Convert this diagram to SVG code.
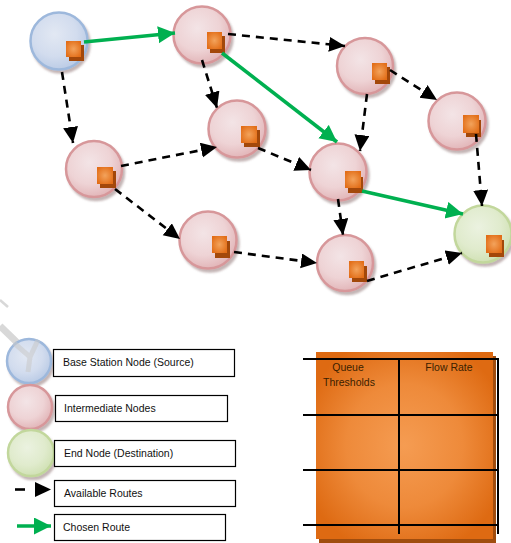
<svg xmlns="http://www.w3.org/2000/svg" width="511" height="543" viewBox="0 0 511 543">
  <style>
    .pink { fill: url(#gPink); stroke: #d7979a; stroke-width: 2.5; filter: url(#shadow); }
    .blue { fill: url(#gBlue); stroke: #9db8dc; stroke-width: 2.5; filter: url(#shadow); }
    .green { fill: url(#gGreen); stroke: #c2d79c; stroke-width: 2.5; filter: url(#shadow); }
    .sqBack { fill: #a3480a; }
    .sqFront { fill: url(#gSq); }
    .dash { fill: none; stroke: #000; stroke-width: 2.6; stroke-dasharray: 8 6; marker-end: url(#arrBlack); }
    .chosen { fill: none; stroke: #00b050; stroke-width: 3.6; marker-end: url(#arrGreen); }
    .box { fill: #fff; stroke: #000; stroke-width: 1.2; }
    .lbl { font-family: "Liberation Sans", Arial, sans-serif; font-size: 10.5px; fill: #111; }
    .grid { stroke: #000; stroke-width: 2; }
    .cell { font-family: "Liberation Sans", Arial, sans-serif; font-size: 10.5px; fill: #3a1e00; text-anchor: middle; }
  </style>
  <defs>
    <radialGradient id="gPink" cx="0.42" cy="0.38" r="0.65">
      <stop offset="0" stop-color="#f3e4e6"/>
      <stop offset="0.6" stop-color="#eed3d5"/>
      <stop offset="1" stop-color="#e1b3b6"/>
    </radialGradient>
    <radialGradient id="gBlue" cx="0.42" cy="0.38" r="0.65">
      <stop offset="0" stop-color="#e2e8f3"/>
      <stop offset="0.6" stop-color="#d2dcee"/>
      <stop offset="1" stop-color="#b9cae5"/>
    </radialGradient>
    <radialGradient id="gGreen" cx="0.42" cy="0.38" r="0.65">
      <stop offset="0" stop-color="#ebf2e0"/>
      <stop offset="0.6" stop-color="#e0ebcd"/>
      <stop offset="1" stop-color="#cfe0b2"/>
    </radialGradient>
    <radialGradient id="gSq" cx="0.5" cy="0.5" r="0.6">
      <stop offset="0" stop-color="#f3a35c"/>
      <stop offset="1" stop-color="#e26d17"/>
    </radialGradient>
    <radialGradient id="gTable" cx="0.5" cy="0.5" r="0.6">
      <stop offset="0" stop-color="#f59c52"/>
      <stop offset="0.55" stop-color="#ee8a3a"/>
      <stop offset="1" stop-color="#de6a12"/>
    </radialGradient>
    <filter id="shadow" x="-20%" y="-20%" width="150%" height="150%">
      <feDropShadow dx="2" dy="3" stdDeviation="1.2" flood-color="#7a5a5c" flood-opacity="0.45"/>
    </filter>
    <marker id="arrBlack" markerUnits="userSpaceOnUse" markerWidth="18" markerHeight="16" refX="16" refY="7.5" orient="auto">
      <path d="M0,0 L16,7.5 L0,15 z" fill="#000"/>
    </marker>
    <marker id="arrGreen" markerUnits="userSpaceOnUse" markerWidth="19" markerHeight="18" refX="17" refY="8.5" orient="auto">
      <path d="M0,0 L17,8.5 L0,17 z" fill="#00b050"/>
    </marker>
  </defs>

  <rect width="511" height="543" fill="#fff"/>

  <!-- network nodes: circle with an orange agent square -->
  <g id="source">
    <circle class="blue" cx="59" cy="41" r="28.5"/>
    <rect class="sqBack" x="69" y="45" width="15" height="16"/>
    <rect class="sqFront" x="66" y="41" width="15" height="16"/>
  </g>
  <g id="n1">
    <circle class="pink" cx="202" cy="35" r="28.5"/>
    <rect class="sqBack" x="210" y="36" width="15" height="17"/>
    <rect class="sqFront" x="207" y="32" width="15" height="17"/>
  </g>
  <g id="n2">
    <circle class="pink" cx="365" cy="66" r="28"/>
    <rect class="sqBack" x="375" y="67" width="15" height="17"/>
    <rect class="sqFront" x="372" y="63" width="15" height="17"/>
  </g>
  <g id="n3">
    <circle class="pink" cx="457" cy="121" r="28.5"/>
    <rect class="sqBack" x="466" y="120" width="15" height="17"/>
    <rect class="sqFront" x="463" y="115" width="16" height="18"/>
  </g>
  <g id="n4">
    <circle class="pink" cx="237" cy="129" r="28.5"/>
    <rect class="sqBack" x="244" y="130" width="16" height="17"/>
    <rect class="sqFront" x="241" y="126" width="16" height="17"/>
  </g>
  <g id="n5">
    <circle class="pink" cx="94" cy="169" r="28"/>
    <rect class="sqBack" x="100" y="171" width="16" height="17"/>
    <rect class="sqFront" x="97" y="167" width="16" height="17"/>
  </g>
  <g id="n6">
    <circle class="pink" cx="338" cy="172" r="28.5"/>
    <rect class="sqBack" x="348" y="177" width="15" height="16"/>
    <rect class="sqFront" x="345" y="171" width="16" height="17"/>
  </g>
  <g id="n7">
    <circle class="pink" cx="208" cy="240" r="28.5"/>
    <rect class="sqBack" x="215" y="241" width="15" height="17"/>
    <rect class="sqFront" x="212" y="236" width="15" height="17"/>
  </g>
  <g id="n8">
    <circle class="pink" cx="345" cy="263" r="28"/>
    <rect class="sqBack" x="352" y="266" width="15" height="16"/>
    <rect class="sqFront" x="349" y="261" width="15" height="17"/>
  </g>
  <g id="destination">
    <circle class="green" cx="483" cy="234" r="28.5"/>
    <rect class="sqBack" x="489" y="240" width="15" height="17"/>
    <rect class="sqFront" x="486" y="235" width="16" height="18"/>
  </g>

  <!-- routes -->
  <g id="connectors">
    <path class="dash" d="M62,72 L73,143"/>
    <path class="dash" d="M228,34 L345,46"/>
    <path class="dash" d="M202,60 L217,108"/>
    <path class="dash" d="M390,70 L437,100"/>
    <path class="dash" d="M367,94 L360,151"/>
    <path class="dash" d="M258,148 L311,170"/>
    <path class="dash" d="M121,166 L217,147"/>
    <path class="dash" d="M115,189 L180,239"/>
    <path class="dash" d="M476,134 L482,206"/>
    <path class="dash" d="M338,199 L343,235"/>
    <path class="dash" d="M234,252 L317,263"/>
    <path class="dash" d="M367,281 L462,253"/>
    <path class="chosen" d="M84,42 L175,33"/>
    <path class="chosen" d="M222,53 L337,142"/>
    <path class="chosen" d="M362,191 L463,214"/>
  </g>

  <!-- faint stroke marks at the left edge -->
  <g id="marks" fill="none" stroke="#d4d4d4" stroke-linecap="butt" opacity="0.9">
    <path d="M0,300 L8,307" stroke-width="2.5"/>
    <path d="M0,326 L30,355" stroke-width="7"/>
  </g>

  <!-- legend -->
  <g id="legend-source">
    <circle class="blue" cx="29" cy="361" r="22"/>
    <path d="M14,343 L30,357 L38,340 M30,357 L28,372" fill="none" stroke="#c8c8c8" stroke-width="5" opacity="0.55"/>
    <rect class="box" x="53.5" y="349.5" width="181" height="27"/>
    <text class="lbl" x="63" y="366">Base Station Node (Source)</text>
  </g>
  <g id="legend-intermediate">
    <circle class="pink" cx="30" cy="407" r="22"/>
    <rect class="box" x="55.5" y="395.5" width="172" height="26"/>
    <text class="lbl" x="64" y="412">Intermediate Nodes</text>
  </g>
  <g id="legend-destination">
    <circle class="green" cx="31" cy="453" r="23"/>
    <rect class="box" x="54.5" y="440.5" width="181" height="26"/>
    <text class="lbl" x="64" y="457">End Node (Destination)</text>
  </g>
  <g id="legend-available">
    <path d="M15,489.5 L51,489.5" fill="none" stroke="#000" stroke-width="2.6" stroke-dasharray="10 40" marker-end="url(#arrBlack)"/>
    <rect class="box" x="54.5" y="480.5" width="181" height="26"/>
    <text class="lbl" x="64" y="497">Available Routes</text>
  </g>
  <g id="legend-chosen">
    <path d="M17,526 L51,526" fill="none" stroke="#00b050" stroke-width="3.6" marker-end="url(#arrGreen)"/>
    <rect class="box" x="54.5" y="514.5" width="171" height="26"/>
    <text class="lbl" x="63" y="531">Chosen Route</text>
  </g>

  <!-- queue / flow table -->
  <g id="table">
    <rect x="319" y="356" width="177" height="187" fill="#a04d0e"/>
    <rect x="316" y="352" width="177" height="187" fill="url(#gTable)"/>
    <line class="grid" x1="303" y1="359" x2="499" y2="359"/>
    <line class="grid" x1="303" y1="415" x2="499" y2="415"/>
    <line class="grid" x1="303" y1="470" x2="499" y2="470"/>
    <line class="grid" x1="303" y1="525" x2="499" y2="525"/>
    <line class="grid" x1="399" y1="359" x2="399" y2="534"/>
    <line class="grid" x1="498" y1="358" x2="498" y2="534"/>
    <text class="cell" x="348" y="371">Queue</text>
    <text class="cell" x="349" y="386">Thresholds</text>
    <text class="cell" x="449" y="371">Flow Rate</text>
  </g>
</svg>
